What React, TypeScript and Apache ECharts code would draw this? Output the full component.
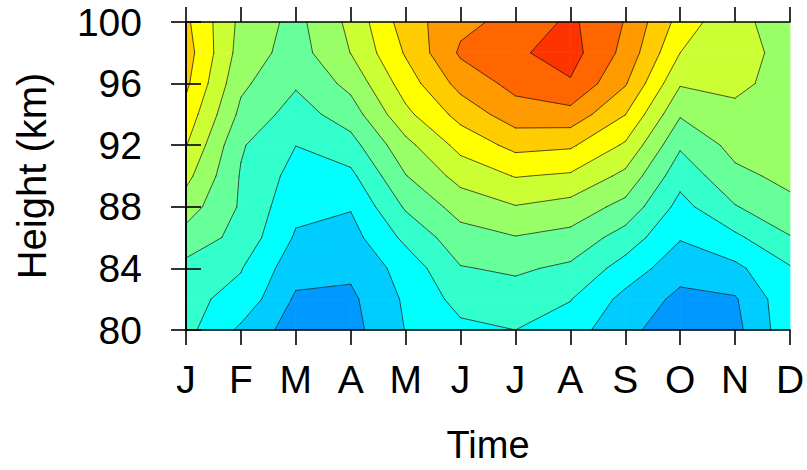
import React, { useEffect, useRef } from "react";
import * as echarts from "echarts";

// ---- data ----
const monthLabels = ["J", "F", "M", "A", "M", "J", "J", "A", "S", "O", "N", "D"];
const heights = [80, 82, 84, 86, 88, 90, 92, 94, 96, 98, 100];
const yTickStep = 4;
// contour levels (field units) separating the 12 colour bands
const contourLevels = [1, 2, 3, 4, 5, 6, 7, 8, 9, 10, 11];
const bandColors = [
  "#0099FF", "#00CCFF", "#00FFFF", "#33FFCC", "#66FF99", "#99FF66",
  "#CCFF33", "#FFFF00", "#FFCC00", "#FF9900", "#FF6600", "#FF3300",
];
// field values per month, at heights 80,82,...,100 km
const janV = [3.3, 3.25, 3.69, 4.6, 5.48, 6.3, 7.05, 7.63, 8.2, 8.45, 8.2];
const febV = [1.8, 2.7, 3.05, 3.68, 3.88, 3.92, 4.1, 4.75, 5.2, 5.58, 5.75];
const marV = [0.5, 0.85, 1.38, 1.88, 2.27, 2.64, 3.01, 3.56, 4.12, 4.55, 4.69];
const aprV = [0.65, 0.8, 1.21, 1.63, 2.07, 2.76, 3.62, 4.5, 5.29, 6.02, 6.25];
const mayV = [2.03, 2.15, 2.4, 3.23, 4.13, 4.96, 5.7, 6.75, 7.48, 8.1, 8.5];
const junV = [2.77, 3.35, 3.94, 4.6, 5.4, 6.36, 7.32, 8.35, 9.35, 10.15, 9.75];
const julV = [3.0, 3.55, 4.15, 4.95, 5.95, 7.05, 8.3, 9.55, 10.3, 10.85, 10.3];
const augV = [2.5, 3.04, 3.81, 4.68, 5.62, 6.86, 8.15, 9.64, 10.9, 11.4, 11.2];
const sepV = [1.2, 1.7, 2.58, 3.56, 4.68, 5.74, 6.86, 8.02, 9.09, 9.7, 9.95];
const octV = [0.55, 0.75, 1.38, 2.07, 2.67, 3.35, 4.14, 5.1, 6.09, 7.0, 7.63];
const novV = [0.7, 0.9, 1.77, 2.79, 3.94, 4.76, 5.32, 5.78, 6.2, 6.35, 6.13];
const decV = [2.7, 2.75, 2.9, 3.94, 4.76, 5.25, 5.45, 5.55, 5.65, 5.7, 5.77];

const field = [janV, febV, marV, aprV, mayV, junV, julV, augV, sepV, octV, novV, decV];

const FONT = "'Liberation Sans', Arial, Helvetica, sans-serif";

type P = [number, number, number];

function clipPoly(poly: P[], level: number, keepAbove: boolean): P[] {
  const out: P[] = [];
  const n = poly.length;
  for (let k = 0; k < n; k++) {
    const a = poly[k];
    const b = poly[(k + 1) % n];
    const ain = keepAbove ? a[2] >= level : a[2] <= level;
    const bin = keepAbove ? b[2] >= level : b[2] <= level;
    if (ain) out.push(a);
    if (ain !== bin) {
      const t = (level - a[2]) / (b[2] - a[2]);
      out.push([a[0] + t * (b[0] - a[0]), a[1] + t * (b[1] - a[1]), level]);
    }
  }
  return out;
}

function cellCorners(api: any): P[] | null {
  const i = api.value(0);
  const h = api.value(1);
  const j = heights.indexOf(h);
  if (j < 0 || j >= heights.length - 1 || i >= field.length - 1) return null;
  const idx: [number, number][] = [
    [i, j],
    [i + 1, j],
    [i + 1, j + 1],
    [i, j + 1],
  ];
  return idx.map(([ci, cj]) => {
    const p = api.coord([ci, heights[cj]]);
    return [p[0], p[1], field[ci][cj]] as P;
  });
}

function renderFill(params: any, api: any) {
  const c = cellCorners(api);
  if (!c) return null;
  const children: any[] = [];
  for (let k = 0; k < bandColors.length; k++) {
    let poly: P[] = c;
    if (k > 0) poly = clipPoly(poly, contourLevels[k - 1], true);
    if (poly.length && k < contourLevels.length) poly = clipPoly(poly, contourLevels[k], false);
    if (poly.length >= 3) {
      children.push({
        type: "polygon",
        shape: { points: poly.map((p) => [p[0], p[1]]) },
        style: { fill: bandColors[k], stroke: bandColors[k], lineWidth: 0.7 },
      });
    }
  }
  return { type: "group", children };
}

function renderLines(params: any, api: any) {
  const c = cellCorners(api);
  if (!c) return null;
  const children: any[] = [];
  for (const L of contourLevels) {
    const xs: { p: [number, number]; exit: boolean }[] = [];
    for (let e = 0; e < 4; e++) {
      const a = c[e];
      const b = c[(e + 1) % 4];
      const aa = a[2] >= L;
      const bb = b[2] >= L;
      if (aa !== bb) {
        const t = (L - a[2]) / (b[2] - a[2]);
        xs.push({ p: [a[0] + t * (b[0] - a[0]), a[1] + t * (b[1] - a[1])], exit: aa });
      }
    }
    const n = xs.length;
    for (let m = 0; m < n; m++) {
      if (!xs[m].exit) continue;
      for (let q = 1; q < n; q++) {
        const o = xs[(m + q) % n];
        if (!o.exit) {
          children.push({
            type: "line",
            shape: { x1: xs[m].p[0], y1: xs[m].p[1], x2: o.p[0], y2: o.p[1] },
            style: { stroke: "rgba(20,20,20,0.8)", lineWidth: 0.9, lineCap: "round" },
          });
          break;
        }
      }
    }
  }
  return { type: "group", children };
}

const cells: [number, number][] = [];
for (let i = 0; i < field.length - 1; i++) {
  for (let j = 0; j < heights.length - 1; j++) {
    cells.push([i, heights[j]]);
  }
}

export default function App() {
  const ref = useRef<HTMLDivElement>(null);
  useEffect(() => {
    if (!ref.current) return;
    const chart = echarts.init(ref.current, undefined, { renderer: "svg" });
    const axisLine = { show: true, lineStyle: { color: "#000", width: 1.6 } };
    const axisTick = { show: true, inside: false, length: 15, lineStyle: { color: "#000", width: 1.6 } };
    chart.setOption({
      animation: false,
      backgroundColor: "#fff",
      grid: { left: 186, right: 17, top: 22, bottom: 140, containLabel: false, outerBoundsMode: "none" },
      xAxis: [
        {
          type: "value",
          position: "bottom",
          min: 0,
          max: monthLabels.length - 1,
          interval: 1,
          z: 10,
          axisLine,
          axisTick,
          splitLine: { show: false },
          axisLabel: {
            formatter: (v: number) => monthLabels[Math.round(v)] ?? "",
            color: "#000",
            fontSize: 39,
            fontFamily: FONT,
            margin: 30,
          },
          name: "Time",
          nameLocation: "middle",
          nameGap: 95,
          nameTextStyle: { color: "#000", fontSize: 38, fontFamily: FONT, lineHeight: 40 },
        },
        {
          type: "value",
          position: "top",
          min: 0,
          max: monthLabels.length - 1,
          interval: 1,
          z: 10,
          axisLine,
          axisTick,
          splitLine: { show: false },
          axisLabel: { show: false },
        },
      ],
      yAxis: [
        {
          type: "value",
          position: "left",
          min: heights[0],
          max: heights[heights.length - 1],
          interval: yTickStep,
          z: 10,
          axisLine,
          axisTick,
          splitLine: { show: false },
          axisLabel: { color: "#000", fontSize: 39, fontFamily: FONT, margin: 44 },
          name: "Height (km)",
          nameLocation: "middle",
          nameGap: 134,
          nameTextStyle: { color: "#000", fontSize: 40, fontFamily: FONT },
        },
        {
          type: "value",
          position: "right",
          min: heights[0],
          max: heights[heights.length - 1],
          interval: yTickStep,
          z: 10,
          axisLine,
          axisTick,
          splitLine: { show: false },
          axisLabel: { show: false },
        },
      ],
      series: [
        {
          type: "custom",
          xAxisIndex: 0,
          yAxisIndex: 0,
          silent: true,
          z: 2,
          renderItem: renderFill,
          data: cells,
        },
        {
          type: "custom",
          xAxisIndex: 0,
          yAxisIndex: 0,
          silent: true,
          z: 3,
          renderItem: renderLines,
          data: cells,
        },
      ],
    });
    return () => chart.dispose();
  }, []);
  return <div ref={ref} style={{ position: "fixed", left: 0, top: 0, width: 807, height: 470 }} />;
}
